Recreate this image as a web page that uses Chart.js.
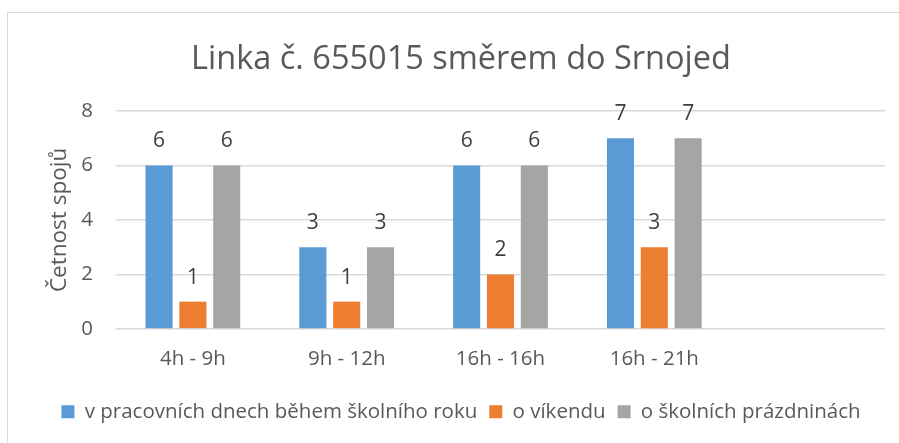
<!DOCTYPE html>
<html>
<head>
<meta charset="utf-8">
<script src="https://cdn.jsdelivr.net/npm/chart.js@4"></script>
<style>
  html, body { margin: 0; padding: 0; background: #fff; overflow: hidden; }
  #frame { position: absolute; left: 7px; top: 12px; width: 1000px; height: 600px; border: 1px solid #d9d9d9; }
  #chart { position: absolute; left: 0; top: 0; }
</style>
</head>
<body>
<div id="frame"></div>
<canvas id="chart" width="899" height="443"></canvas>
<script>
// categories (the last slot is empty in the original)
const categories = ['4h - 9h', '9h - 12h', '16h - 16h', '16h - 21h', ''];
const seriesNames = ['v pracovních dnech během školního roku', 'o víkendu', 'o školních prázdninách'];
const workdays = [6, 3, 6, 7, null];
const weekend = [1, 1, 2, 3, null];
const holidays = [6, 3, 6, 7, null];
const yTicks = [0, 2, 4, 6, 8];

const colors = ['#5b9bd5', '#ed7d31', '#a5a5a5'];
const textColor = '#595959';
const fontFamily = '"Open Sans", "DejaVu Sans", sans-serif';

// draws the value above each bar
const valueLabels = {
    id: 'valueLabels',
    afterDatasetsDraw(chart) {
        const ctx = chart.ctx;
        ctx.save();
        ctx.font = '21px ' + fontFamily;
        ctx.fillStyle = '#404040';
        ctx.textAlign = 'center';
        ctx.textBaseline = 'alphabetic';
        chart.data.datasets.forEach((ds, i) => {
            const meta = chart.getDatasetMeta(i);
            meta.data.forEach((bar, j) => {
                const v = ds.data[j];
                if (v === null || v === undefined) return;
                ctx.fillText(String(v), bar.x, bar.y - 18);
            });
        });
        ctx.restore();
    }
};

const ctx = document.getElementById('chart').getContext('2d');
new Chart(ctx, {
    type: 'bar',
    data: {
        labels: categories,
        datasets: [workdays, weekend, holidays].map((d, i) => ({
            label: seriesNames[i],
            data: d,
            backgroundColor: colors[i],
            borderWidth: 0,
            barPercentage: 0.8,
            categoryPercentage: 0.66
        }))
    },
    options: {
        responsive: false,
        animation: false,
        // left padding shifts title/legend centre to the right, like the original
        layout: { padding: { left: 37, right: 14, top: 0, bottom: 11 } },
        scales: {
            x: {
                grid: { display: false, drawTicks: false },
                border: { display: false },
                ticks: { color: textColor, font: { family: fontFamily, size: 20.5 }, padding: 18 }
            },
            y: {
                min: 0,
                max: 8,
                afterBuildTicks: s => { s.ticks = yTicks.map(v => ({ value: v })); },
                afterFit: s => { s.width = 79; },
                grid: { color: '#d9d9d9', lineWidth: 1.5, drawTicks: false },
                border: { display: false },
                ticks: { color: textColor, font: { family: fontFamily, size: 20.5 }, padding: 23 },
                title: {
                    display: true,
                    text: 'Četnost spojů',
                    color: textColor,
                    font: { family: fontFamily, size: 22.5 },
                    padding: { top: 9, bottom: 0 }
                }
            }
        },
        plugins: {
            title: {
                display: true,
                text: 'Linka č. 655015 směrem do Srnojed',
                color: textColor,
                font: { family: fontFamily, size: 32.5, weight: 'normal' },
                padding: { top: 40, bottom: 32 }
            },
            legend: {
                position: 'bottom',
                labels: {
                    color: textColor,
                    font: { family: fontFamily, size: 20.5 },
                    boxWidth: 13,
                    boxHeight: 13,
                    padding: 12
                }
            },
            tooltip: { enabled: false }
        }
    },
    plugins: [valueLabels]
});
</script>
</body>
</html>
